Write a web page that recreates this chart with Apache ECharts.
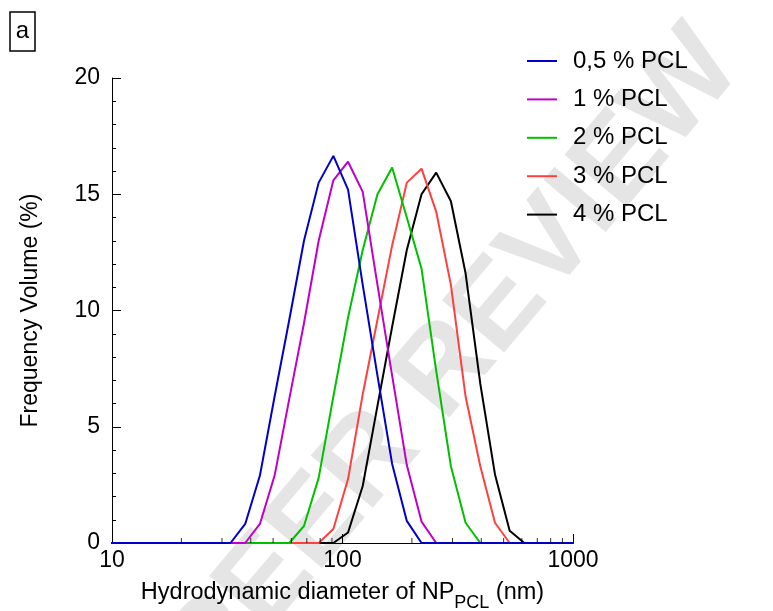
<!DOCTYPE html>
<html>
<head>
<meta charset="utf-8">
<script src="https://cdn.jsdelivr.net/npm/echarts@6/dist/echarts.min.js"></script>
<style>
html,body{margin:0;padding:0;background:#fff;}
#chart{width:773px;height:611px;}
</style>
</head>
<body>
<div id="chart"></div>
<script>
// Hydrodynamic diameter bins (nm)
const sizes = [8.721, 10.10, 11.70, 13.54, 15.69, 18.17, 21.04, 24.36, 28.21, 32.67, 37.84, 43.82, 50.75, 58.77, 68.06, 78.82, 91.28, 105.7, 122.4, 141.8, 164.2, 190.1, 220.2, 255.0, 295.3, 342.0, 396.1, 458.7, 531.2, 615.1, 712.4, 825.0, 955.4, 1106];
// Frequency volume (%)
const pcl05 = [0,0,0,0,0,0,0,0,0, 0,0.82,2.9,6.3,9.6,13.0,15.5,16.65,15.2,11.1,7.2,3.4,0.95,0, 0,0,0,0,0,0,0,0,0,0,0];
const pcl1  = [0,0,0,0,0,0,0,0,0,0, 0,0.82,2.9,6.2,9.45,13.0,15.6,16.4,15.1,11.1,7.2,3.35,0.92,0, 0,0,0,0,0,0,0,0,0,0];
const pcl2  = [0,0,0,0,0,0,0,0,0,0,0,0,0, 0,0.73,2.8,6.3,9.7,12.6,15.0,16.15,14.0,11.8,7.4,3.3,0.87,0, 0,0,0,0,0,0,0];
const pcl3  = [0,0,0,0,0,0,0,0,0,0,0,0,0,0,0, 0,0.6,2.75,6.4,9.6,12.8,15.5,16.1,14.25,11.1,6.3,3.3,0.87,0, 0,0,0,0,0];
const pcl4  = [0,0,0,0,0,0,0,0,0,0,0,0,0,0,0,0, 0,0.45,2.45,5.9,9.3,12.6,15.0,15.93,14.7,11.6,6.85,2.95,0.53,0, 0,0,0,0];
const seriesNames = ['0,5 % PCL', '1 % PCL', '2 % PCL', '3 % PCL', '4 % PCL'];
const seriesValues = [pcl05, pcl1, pcl2, pcl3, pcl4];
const seriesColors = ['#0000c8', '#c000c8', '#00c000', '#ff4040', '#000000'];
const xMinorTicks = [20, 30, 40, 50, 60, 70, 80, 90, 200, 300, 400, 500, 600, 700, 800, 900];

const FONT = 'Liberation Sans, Arial, sans-serif';
const chart = echarts.init(document.getElementById('chart'), null, {renderer: 'canvas'});

const lineSeries = seriesNames.map((name, i) => ({
  name: name,
  type: 'line',
  data: sizes.map((s, k) => [s, seriesValues[i][k]]),
  symbol: 'none',
  smooth: false,
  clip: true,
  z: 10 - i,
  lineStyle: {color: seriesColors[i], width: 2},
  itemStyle: {color: seriesColors[i]},
  emphasis: {disabled: true},
  animation: false
}));

lineSeries.push({
  name: 'minorTicks',
  type: 'scatter',
  data: xMinorTicks.map(v => [v, 0]),
  symbol: 'rect',
  symbolSize: [1, 5],
  symbolOffset: [0, -2.5],
  itemStyle: {color: '#000'},
  silent: true,
  z: 20,
  clip: false,
  animation: false
});

const option = {
  backgroundColor: '#fff',
  animation: false,
  grid: {left: 112, right: 200, top: 78, bottom: 68, containLabel: false, outerBoundsMode: 'none'},
  graphic: [
    {
      type: 'text', x: 455, y: 360, rotation: 0.87, z: -10, silent: true,
      style: {text: 'PEER REVIEW', font: 'bold 118px ' + FONT, fill: 'rgba(190,190,190,0.4)', align: 'center', verticalAlign: 'middle'}
    },
    {
      type: 'rect', shape: {x: 10, y: 12, width: 25, height: 39}, silent: true,
      style: {fill: '#fff', stroke: '#000', lineWidth: 1.5}
    },
    {
      type: 'text', x: 22.5, y: 31.5, silent: true,
      style: {text: 'a', font: '24px ' + FONT, fill: '#000', align: 'center', verticalAlign: 'middle'}
    }
  ],
  legend: {
    data: seriesNames,
    orient: 'vertical',
    left: 527,
    top: 49,
    padding: 0,
    itemWidth: 30,
    itemHeight: 14,
    itemGap: 14.4,
    icon: 'path://M0,6 L30,6 L30,8 L0,8 Z',
    textStyle: {fontFamily: FONT, fontSize: 24, color: '#000', lineHeight: 24, padding: [0, 0, 0, 11]},
    selectedMode: false
  },
  xAxis: {
    type: 'log',
    logBase: 10,
    min: 10,
    max: 1000,
    name: '{a|Hydrodynamic diameter of NP}{b|PCL}{a| (nm)}',
    nameLocation: 'middle',
    nameGap: 31,
    nameTextStyle: {
      rich: {
        a: {fontFamily: FONT, fontSize: 23.5, color: '#000', lineHeight: 38},
        b: {fontFamily: FONT, fontSize: 18, color: '#000', lineHeight: 12, verticalAlign: 'bottom'}
      }
    },
    axisLine: {show: true, lineStyle: {color: '#000', width: 1}},
    axisTick: {show: true, inside: true, length: 9, lineStyle: {color: '#000'}},
    minorTick: {show: false},
    splitLine: {show: false},
    axisLabel: {fontFamily: FONT, fontSize: 23, color: '#000', margin: 6, formatter: v => String(Math.round(v))}
  },
  yAxis: {
    type: 'value',
    min: 0,
    max: 20,
    interval: 5,
    name: 'Frequency Volume (%)',
    nameLocation: 'middle',
    nameGap: 70,
    nameTextStyle: {fontFamily: FONT, fontSize: 23, color: '#000'},
    axisLine: {show: true, lineStyle: {color: '#000', width: 1}},
    axisTick: {show: true, inside: true, length: 9, lineStyle: {color: '#000'}},
    minorTick: {show: true, splitNumber: 5, length: 4, lineStyle: {color: '#000'}},
    splitLine: {show: false},
    axisLabel: {fontFamily: FONT, fontSize: 23, color: '#000', margin: 12}
  },
  series: lineSeries
};
chart.setOption(option);
</script>
</body>
</html>
